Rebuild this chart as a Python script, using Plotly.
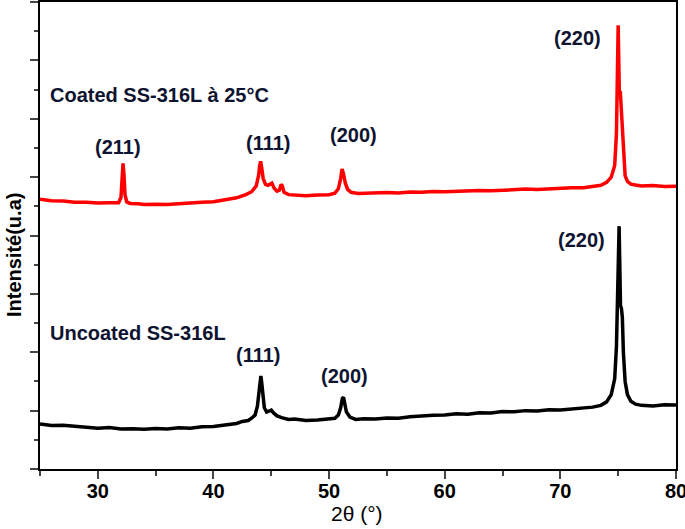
import plotly.graph_objects as go

# 2-theta positions (degrees) and relative intensities (arbitrary units, offset stacked)
x_uncoated = [25, 26, 27, 28, 29, 30, 31, 32, 33, 34, 35, 36, 37, 38, 39, 40, 41, 42, 42.5, 43, 43.3, 43.6,
              43.8, 43.95, 44.05, 44.1, 44.15, 44.25, 44.4, 44.6, 44.8, 45.0, 45.2, 45.5, 45.9, 46.5, 47, 48,
              49, 50, 50.5, 50.8, 51.0, 51.15, 51.25, 51.35, 51.5, 51.8, 52.3, 53, 54, 55, 56, 57, 58, 59,
              60, 61, 62, 63, 64, 65, 66, 67, 68, 69, 70, 71, 72, 72.8, 73.5, 74.0, 74.4, 74.7, 74.85,
              74.95, 75.03, 75.08, 75.13, 75.2, 75.28, 75.36, 75.45, 75.6, 75.8, 76.1, 76.5, 77, 78, 79, 80]
y_uncoated = [1.54, 1.49, 1.50, 1.45, 1.43, 1.40, 1.42, 1.37, 1.38, 1.36, 1.39, 1.37, 1.41, 1.40, 1.45, 1.46, 1.52, 1.56, 1.63, 1.66, 1.74, 1.85,
              2.15, 2.70, 3.10, 3.19, 3.05, 2.55, 2.10, 1.95, 1.98, 2.02, 1.92, 1.82, 1.76, 1.70, 1.71, 1.66,
              1.68, 1.70, 1.74, 1.85, 2.10, 2.42, 2.46, 2.25, 1.95, 1.78, 1.70, 1.72, 1.71, 1.75, 1.74, 1.79, 1.80, 1.84,
              1.85, 1.89, 1.88, 1.93, 1.92, 1.97, 1.96, 2.00, 1.99, 2.03, 2.02, 2.06, 2.08, 2.12, 2.18, 2.30, 2.55, 3.10, 4.20,
              6.00, 7.90, 8.32, 7.20, 5.60, 5.50, 5.20, 4.00, 3.00, 2.55, 2.32, 2.22, 2.18, 2.16, 2.20, 2.19]

x_coated = [25, 26, 27, 28, 29, 30, 31, 31.8, 32.0, 32.1, 32.18, 32.26, 32.35, 32.5, 32.8, 33.5, 34, 35, 36, 37, 38,
            39, 40, 41, 42, 42.8, 43.3, 43.7, 43.9, 44.0, 44.08, 44.18, 44.3, 44.5, 44.7, 44.9, 45.05, 45.25, 45.5,
            45.7, 45.85, 45.95, 46.1, 46.5, 47, 48, 49, 50, 50.5, 50.8, 51.0, 51.12, 51.25, 51.4, 51.6, 51.9, 52.5,
            53, 54, 55, 56, 57, 58, 59, 60, 61, 62, 63, 64, 65, 66, 67, 68, 69, 70, 71, 72, 72.8, 73.5, 74.0, 74.4,
            74.7, 74.85, 74.93, 75.0, 75.05, 75.1, 75.18, 75.26, 75.35, 75.45, 75.6, 75.8, 76.1, 76.5, 77, 78, 79, 80]
y_coated = [9.24, 9.19, 9.18, 9.14, 9.14, 9.11, 9.12, 9.12, 9.30, 10.10, 10.47, 10.10, 9.40, 9.15, 9.10, 9.09, 9.06, 9.07, 9.06, 9.09, 9.10,
            9.14, 9.16, 9.23, 9.29, 9.40, 9.50, 9.70, 10.05, 10.40, 10.54, 10.30, 9.95, 9.75, 9.72, 9.76, 9.79, 9.62, 9.52,
            9.55, 9.75, 9.70, 9.48, 9.40, 9.39, 9.36, 9.39, 9.40, 9.45, 9.60, 9.95, 10.28, 10.10, 9.80, 9.58, 9.48, 9.44,
            9.45, 9.44, 9.47, 9.46, 9.49, 9.48, 9.51, 9.50, 9.52, 9.51, 9.54, 9.53, 9.56, 9.56, 9.59, 9.58, 9.61, 9.61, 9.64, 9.64, 9.67, 9.72, 9.82, 10.00,
            10.40, 11.50, 13.50, 15.20, 14.00, 12.90, 12.95, 12.40, 11.50, 10.60, 10.05, 9.85, 9.76, 9.73, 9.70, 9.71, 9.68, 9.69]

peak_labels_coated = ["(211)", "(111)", "(200)", "(220)"]
peak_label_x_coated = [31.74, 44.72, 52.07, 71.52]
peak_label_y_coated = [11.02, 11.16, 11.43, 14.78]
peak_labels_uncoated = ["(111)", "(200)", "(220)"]
peak_label_x_uncoated = [43.85, 51.37, 71.87]
peak_label_y_uncoated = [3.90, 3.18, 7.84]

FONT = "Liberation Sans, Arial, sans-serif"

fig = go.Figure()
fig.add_trace(go.Scatter(x=x_uncoated, y=y_uncoated, mode="lines",
                         line=dict(color="black", width=3.5), showlegend=False))
fig.add_trace(go.Scatter(x=x_coated, y=y_coated, mode="lines",
                         line=dict(color="#ff0000", width=3.5), showlegend=False))

label_font = dict(family=FONT, size=20, color="#0d1330")
for t, xx, yy in zip(peak_labels_coated, peak_label_x_coated, peak_label_y_coated):
    fig.add_annotation(x=xx, y=yy, text="<b>%s</b>" % t, showarrow=False, font=label_font)
for t, xx, yy in zip(peak_labels_uncoated, peak_label_x_uncoated, peak_label_y_uncoated):
    fig.add_annotation(x=xx, y=yy, text="<b>%s</b>" % t, showarrow=False, font=label_font)
fig.add_annotation(x=25.69, y=12.8, text="<b>Coated SS-316L à 25°C</b>", showarrow=False,
                   xanchor="left", font=label_font)
fig.add_annotation(x=25.69, y=4.65, text="<b>Uncoated SS-316L</b>", showarrow=False,
                   xanchor="left", font=label_font)

# axis titles
fig.add_annotation(xref="paper", yref="paper", x=0.498, y=-0.0963, text="2θ (°)",
                   xanchor="center", yanchor="middle",
                   showarrow=False, font=dict(family=FONT, size=21, color="black"))
fig.add_annotation(xref="paper", yref="paper", x=-0.041, y=0.458, text="<b>Intensité(u.a)</b>",
                   xanchor="center", yanchor="middle",
                   textangle=-90, showarrow=False, font=dict(family=FONT, size=20, color="black"))

fig.update_layout(
    width=685, height=529,
    margin=dict(l=40, r=9, t=2, b=60, autoexpand=False),
    plot_bgcolor="white", paper_bgcolor="white",
    font=dict(family=FONT, color="black"),
)
fig.update_xaxes(range=[25, 80], tick0=0, dtick=10, ticks="outside", ticklen=8, tickwidth=2,
                 showline=True, linewidth=2, linecolor="black", mirror=True, showgrid=False,
                 zeroline=False, automargin=False, ticklabeloverflow="allow",
                 ticklabelstandoff=-5,
                 tickfont=dict(size=20, family=FONT),
                 tickprefix="<b>", ticksuffix="</b>",
                 minor=dict(dtick=5, ticks="outside", ticklen=5, tickwidth=2, showgrid=False))
fig.update_yaxes(range=[0, 16], tick0=0, dtick=2, ticks="outside", ticklen=8, tickwidth=2,
                 showticklabels=False, automargin=False,
                 showline=True, linewidth=2, linecolor="black", mirror=True, showgrid=False,
                 zeroline=False,
                 minor=dict(dtick=1, ticks="outside", ticklen=4, tickwidth=2, showgrid=False))

fig.write_html("out.html", config={"displayModeBar": False},
               post_script="document.body.style.margin='0';document.body.style.padding='0';document.body.style.overflow='hidden';")
